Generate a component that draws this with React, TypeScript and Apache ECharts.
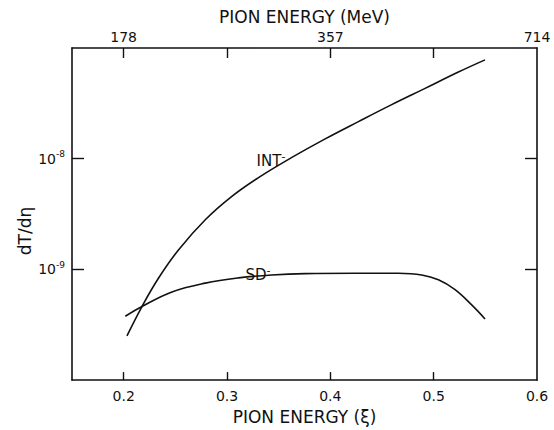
import React, { useEffect, useRef } from "react";
import * as echarts from "echarts";

// ξ (pion energy) and dT/dη values
const intX = [0.2032, 0.2177, 0.2338, 0.2532, 0.279, 0.3047, 0.3305, 0.3628, 0.395, 0.4272, 0.4594, 0.4917, 0.5239, 0.5497];
const intY = [2.51e-10, 4.62e-10, 8.36e-10, 1.506e-9, 2.81e-9, 4.57e-9, 6.75e-9, 1.027e-8, 1.511e-8, 2.164e-8, 3.078e-8, 4.317e-8, 6.06e-8, 7.81e-8];

const sdX = [0.2016, 0.2177, 0.2467, 0.279, 0.3112, 0.3434, 0.3756, 0.424, 0.4659, 0.4884, 0.5046, 0.5207, 0.5368, 0.5497];
const sdY = [3.77e-10, 4.62e-10, 6.26e-10, 7.52e-10, 8.38e-10, 8.91e-10, 9.16e-10, 9.22e-10, 9.22e-10, 8.91e-10, 8.05e-10, 6.57e-10, 4.78e-10, 3.57e-10];

const bottomTicks = [0.2, 0.3, 0.4, 0.5];
const bottomLabels = [0.2, 0.3, 0.4, 0.5, 0.6];
const topTicks = [0.2, 0.3, 0.4, 0.5];
const topLabelPos = [0.2, 0.4, 0.6];
const topLabelText = ["178", "357", "714"];
const yTicks = [1e-9, 1e-8];
const yTickExp = ["-9", "-8"];

const FONT = "DejaVu Sans";
const INK = "#111";

export default function App() {
  const ref = useRef<HTMLDivElement>(null);
  useEffect(() => {
    if (!ref.current) return;
    const chart = echarts.init(ref.current, null, { renderer: "svg" });
    const axisLine = { show: true, lineStyle: { color: INK, width: 1.6 } };
    const tick = { inside: true, length: 10, lineStyle: { color: INK, width: 1.4 } };
    chart.setOption({
      animation: false,
      backgroundColor: "#fff",
      textStyle: { fontFamily: FONT, color: INK },
      grid: { left: 72, right: 17, top: 48, bottom: 44 },
      xAxis: [
        {
          type: "value",
          position: "bottom",
          min: 0.15,
          max: 0.6,
          axisLine,
          axisTick: { ...tick, length: 8, customValues: bottomTicks },
          splitLine: { show: false },
          axisLabel: {
            customValues: bottomLabels,
            fontFamily: FONT,
            fontSize: 14,
            color: INK,
            margin: 9,
            formatter: (v: number) => String(Math.round(v * 10) / 10),
          },
          name: "PION ENERGY (ξ)",
          nameLocation: "middle",
          nameGap: 24,
          nameTextStyle: { fontFamily: FONT, fontSize: 17, color: INK },
        },
        {
          type: "value",
          position: "top",
          min: 0.15,
          max: 0.6,
          axisLine,
          axisTick: { ...tick, customValues: topTicks },
          splitLine: { show: false },
          axisLabel: {
            customValues: topLabelPos,
            fontFamily: FONT,
            fontSize: 14,
            color: INK,
            margin: 4,
            formatter: (v: number) => {
              const i = topLabelPos.findIndex((p) => Math.abs(p - v) < 1e-6);
              return i >= 0 ? topLabelText[i] : "";
            },
          },
          name: "PION ENERGY (MeV)",
          nameLocation: "middle",
          nameGap: 23,
          nameTextStyle: { fontFamily: FONT, fontSize: 17, color: INK },
        },
      ],
      yAxis: [
        {
          type: "log",
          logBase: 10,
          min: 1e-10,
          max: 1e-7,
          position: "left",
          axisLine,
          axisTick: { ...tick, length: 12, customValues: yTicks },
          splitLine: { show: false },
          axisLabel: {
            customValues: yTicks,
            margin: 7,
            fontFamily: FONT,
            fontSize: 14,
            color: INK,
            formatter: (v: number) => {
              const i = yTicks.findIndex((p) => Math.abs(Math.log10(p) - Math.log10(v)) < 1e-6);
              return i >= 0 ? `10{sup|${yTickExp[i]}}` : "";
            },
            rich: {
              sup: { fontSize: 9, fontFamily: FONT, color: INK, padding: [0, 0, 9, 0] },
            },
          },
        },
        {
          type: "log",
          logBase: 10,
          min: 1e-10,
          max: 1e-7,
          position: "right",
          axisLine,
          axisTick: { ...tick, length: 12, customValues: yTicks },
          axisLabel: { show: false },
          splitLine: { show: false },
        },
      ],
      graphic: [
        {
          type: "text",
          x: 25,
          y: 231,
          rotation: Math.PI / 2,
          style: {
            text: "dT/dη",
            fontFamily: FONT,
            fontSize: 17,
            fill: INK,
            align: "center",
            verticalAlign: "middle",
          },
        },
        {
          type: "text",
          x: 271,
          y: 161,
          style: {
            text: "INT{s|-}",
            fontFamily: FONT,
            fontSize: 15,
            fill: INK,
            align: "center",
            verticalAlign: "middle",
            rich: { s: { fontSize: 11, fontFamily: FONT, fill: INK, padding: [0, 0, 9, 0] } },
          },
        },
        {
          type: "text",
          x: 258,
          y: 275,
          style: {
            text: "SD{s|-}",
            fontFamily: FONT,
            fontSize: 15,
            fill: INK,
            align: "center",
            verticalAlign: "middle",
            rich: { s: { fontSize: 11, fontFamily: FONT, fill: INK, padding: [0, 0, 9, 0] } },
          },
        },
      ],
      series: [
        {
          name: "INT-",
          type: "line",
          xAxisIndex: 0,
          yAxisIndex: 0,
          data: intX.map((x, i) => [x, intY[i]]),
          smooth: 0.4,
          showSymbol: false,
          lineStyle: { color: INK, width: 1.6 },
        },
        {
          name: "SD-",
          type: "line",
          xAxisIndex: 0,
          yAxisIndex: 0,
          data: sdX.map((x, i) => [x, sdY[i]]),
          smooth: 0.4,
          showSymbol: false,
          lineStyle: { color: INK, width: 1.6 },
        },
      ],
    });
    return () => chart.dispose();
  }, []);
  return <div ref={ref} style={{ width: 554, height: 430, position: "absolute", left: 0, top: 0 }} />;
}
